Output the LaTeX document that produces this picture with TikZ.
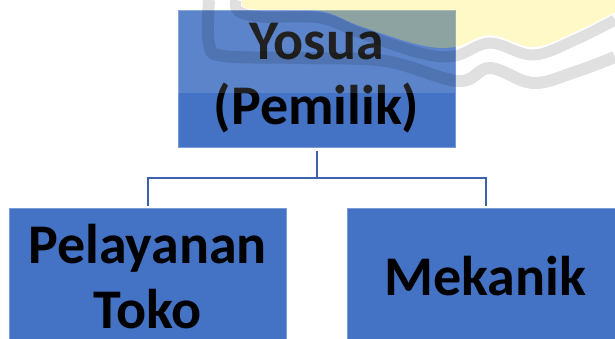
\documentclass[tikz,border=0pt]{standalone}
\usepackage{fontspec}
\setmainfont{Carlito}
\definecolor{boxblue}{RGB}{68,114,196}
\definecolor{boxedge}{RGB}{120,155,215}
\definecolor{linkblue}{RGB}{59,98,170}
\definecolor{wmyellow}{RGB}{255,236,70}
\tikzset{
  orgbox/.style={rectangle, fill=boxblue, draw=boxedge, line width=0.6pt,
    minimum width=277pt, minimum height=137pt, inner sep=0pt,
    align=center, font=\fontsize{56}{65}\selectfont\bfseries, text=black},
  conn/.style={draw=linkblue, line width=2pt},
  wmband/.style={draw=black, draw opacity=0.12, line cap=butt, line join=round},
}
\begin{document}
\begin{tikzpicture}[x=1pt, y=-1pt]
\useasboundingbox (0,0) rectangle (615,339);
\fill[white] (0,0) rectangle (615,339);
\begin{scope}
\clip (0,0) rectangle (615,339);
\node[orgbox] (top) at (316.5,78.5) {\raisebox{-3pt}{Yosua}\\\raisebox{-3pt}{(Pemilik)}};
\node[orgbox] (left) at (147.5,276.5) {Pelayanan\\Toko};
\node[orgbox] (right) at (485.5,276.5) {Mekanik};
\coordinate (j) at (316.5,178);
\draw[conn] ([yshift=-4pt]top.south) -- (j);
\draw[conn] ([yshift=2pt]left.north) |- (j) -| ([yshift=2pt]right.north);
% watermark
\fill[white, opacity=0.13] (178,10) rectangle (455,93);
\fill[wmyellow, opacity=0.3] plot[smooth, tension=0.6] coordinates {(615,12) (575,32) (533,47) (490,35) (455,47) (420,45) (360,26) (320,11) (260,10) (242,6)} -- (242,0) -- (615,0) -- cycle;
\draw[wmband, line width=11pt] plot[smooth, tension=0.6] coordinates {(236,0) (238,11) (262,17) (320,18) (360,33) (420,53) (455,56) (490,43) (533,55) (575,40) (615,20)};
\draw[wmband, line width=12pt] plot[smooth, tension=0.6] coordinates {(209,0) (209,44) (224,56) (300,58) (385,61) (458,81) (490,68) (533,83) (575,72) (615,57)};
\end{scope}
\end{tikzpicture}
\end{document}
